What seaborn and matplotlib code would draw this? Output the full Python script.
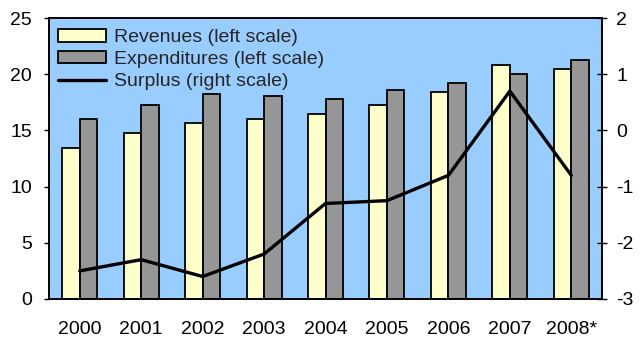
import numpy as np
import pandas as pd
import matplotlib
matplotlib.use("Agg")
import matplotlib.pyplot as plt
import seaborn as sns
from matplotlib.patches import Patch
from matplotlib.lines import Line2D

years = ["2000", "2001", "2002", "2003", "2004", "2005", "2006", "2007", "2008*"]
revenues = [13.4, 14.8, 15.7, 16.0, 16.5, 17.3, 18.4, 20.8, 20.5]
expenditures = [16.0, 17.3, 18.2, 18.1, 17.8, 18.6, 19.2, 20.0, 21.3]
surplus = [-2.5, -2.3, -2.6, -2.2, -1.3, -1.25, -0.8, 0.7, -0.8]

rev_label = "Revenues (left scale)"
exp_label = "Expenditures (left scale)"
sur_label = "Surplus (right scale)"

sns.set_theme(style="white")
plt.rcParams["font.family"] = ["Liberation Sans", "DejaVu Sans"]
plt.rcParams["font.size"] = 14
plt.rcParams["axes.unicode_minus"] = False

bars = pd.DataFrame({
    "year": years * 2,
    "value": revenues + expenditures,
    "series": [rev_label] * len(years) + [exp_label] * len(years),
})

rev_color = "#FFFFCC"
exp_color = "#969696"
bg_color = "#99CCFF"
fs = 14

fig = plt.figure(figsize=(6.44, 3.38), dpi=100)
ax = fig.add_axes([0.0761, 0.1154, 0.8587, 0.8313])
ax.set_facecolor(bg_color)

sns.barplot(data=bars, x="year", y="value", hue="series",
            palette=[rev_color, exp_color], width=0.57, gap=0,
            edgecolor="black", linewidth=1.3, saturation=1,
            legend=False, ax=ax)

ax.set_xlim(-0.5, len(years) - 0.5)
ax.set_ylim(0, 25)
ax.set_yticks(range(0, 26, 5))
ax.set_xlabel("")
ax.set_ylabel("")

# category labels sit between the boundary ticks
ax.set_xticks(np.arange(len(years) + 1) - 0.5)
ax.set_xticklabels([])
ax.set_xticks(np.arange(len(years)), minor=True)
ax.set_xticklabels(years, minor=True)
ax.tick_params(axis="x", which="major", direction="inout", length=8,
               width=1, color="black")
ax.tick_params(axis="x", which="minor", length=0, pad=15.5, labelsize=fs,
               labelcolor="black")
ax.tick_params(axis="y", direction="out", length=3.6, width=1,
               color="black", pad=8.5, labelsize=fs, labelcolor="black",
               left=True)

for s in ax.spines.values():
    s.set_color("black")
    s.set_linewidth(1.2)

ax2 = ax.twinx()
sns.lineplot(x=np.arange(len(years)), y=surplus, color="black",
             linewidth=2.4, ax=ax2)
ax2.set_ylim(-3, 2)
ax2.set_yticks(range(-3, 3))
ax2.tick_params(axis="y", direction="inout", length=6.5, width=1,
                color="black", pad=7, labelsize=fs, labelcolor="black",
                right=True)
ax2.set_xlim(-0.5, len(years) - 0.5)
for s in ax2.spines.values():
    s.set_color("black")
    s.set_linewidth(1.2)

handles = [
    Patch(facecolor=rev_color, edgecolor="black", linewidth=1.3),
    Patch(facecolor=exp_color, edgecolor="black", linewidth=1.3),
    Line2D([], [], color="black", linewidth=2.4),
]
ax2.legend(handles, [rev_label, exp_label, sur_label], loc="upper left",
           bbox_to_anchor=(0.016, 0.96), frameon=False, borderpad=0,
           borderaxespad=0, handlelength=2.5, handleheight=0.6,
           handletextpad=0.4, labelspacing=0.25, fontsize=fs)

fig.savefig("out.png", dpi=100)
